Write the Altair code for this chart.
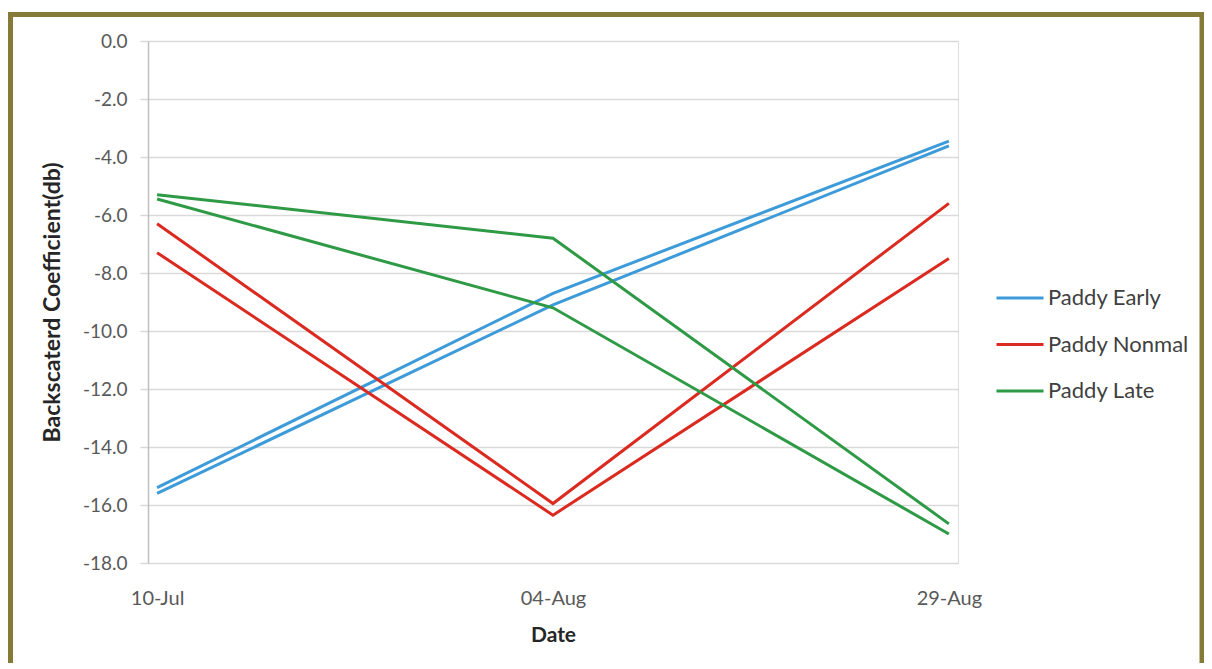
import altair as alt
import pandas as pd

dates = ["10-Jul", "04-Aug", "29-Aug"]
series = ["Paddy Early", "Paddy Nonmal", "Paddy Late"]
colors = ["#3D9BD9", "#DB2A1F", "#2F9A45"]

early_a = [-15.4, -8.7, -3.45]
early_b = [-15.6, -9.1, -3.62]
normal_a = [-6.3, -15.95, -5.6]
normal_b = [-7.3, -16.35, -7.5]
late_a = [-5.3, -6.8, -16.65]
late_b = [-5.45, -9.2, -17.0]

y_ticks = [0, -2, -4, -6, -8, -10, -12, -14, -16, -18]

rows = []
for name, lid, vals in [
    ("Paddy Early", "ea", early_a), ("Paddy Early", "eb", early_b),
    ("Paddy Nonmal", "na", normal_a), ("Paddy Nonmal", "nb", normal_b),
    ("Paddy Late", "la", late_a), ("Paddy Late", "lb", late_b),
]:
    for d, v in zip(dates, vals):
        rows.append({"Date": d, "value": v, "series": name, "line": lid})
df = pd.DataFrame(rows)

FONT = "Lato"

lines = alt.Chart(df).mark_line(strokeWidth=3, clip=False).encode(
    x=alt.X("Date:N", sort=dates,
            scale=alt.Scale(type="point", padding=0.023),
            axis=alt.Axis(title="Date", labelAngle=0, ticks=False, grid=False,
                          domain=False, labelPadding=25, titlePadding=16,
                          labelFontSize=20, titleFontSize=21, titleFontWeight="bold",
                          labelColor="#595959", titleColor="#262626",
                          labelFont=FONT, titleFont=FONT)),
    y=alt.Y("value:Q", scale=alt.Scale(domain=[-18, 0], nice=False, zero=False),
            axis=alt.Axis(title="Backscaterd Coefficient(db)", values=y_ticks,
                          labelExpr="replace(format(datum.value, '.1f'), '\u2212', '-')",
                          grid=True, gridColor="#D9D9D9", gridWidth=1.5,
                          tickColor="#D9D9D9", tickSize=8, tickWidth=1.5,
                          domainColor="#BFBFBF", domainWidth=1.5,
                          labelPadding=13, titlePadding=18,
                          labelFontSize=19, titleFontSize=23, titleFontWeight="bold",
                          labelColor="#595959", titleColor="#262626",
                          labelFont=FONT, titleFont=FONT)),
    color=alt.Color("series:N", sort=series,
                    scale=alt.Scale(domain=series, range=colors),
                    legend=alt.Legend(title=None, orient="none", legendX=847, legendY=232,
                                      symbolType="stroke", symbolSize=2209,
                                      symbolStrokeWidth=3, labelFontSize=22,
                                      labelFont=FONT, labelColor="#404040",
                                      labelOffset=3, rowPadding=10.5, padding=0)),
    detail="line:N",
)

frame = alt.Chart(pd.DataFrame({"a": [0]})).mark_rect(
    fill=None, stroke="#857A37", strokeWidth=5, clip=False
).encode(
    x=alt.value(-137.5), x2=alt.value(1054),
    y=alt.value(-26.5), y2=alt.value(720),
)

chart = alt.layer(frame, lines).properties(
    width=810, height=522,
    autosize=alt.AutoSizeParams(type="none"),
    padding={"left": 140, "top": 33, "right": 246, "bottom": 100},
).configure_view(stroke=None).configure(background="white")

chart.save("out.html", embed_options={"renderer": "svg", "actions": False})
